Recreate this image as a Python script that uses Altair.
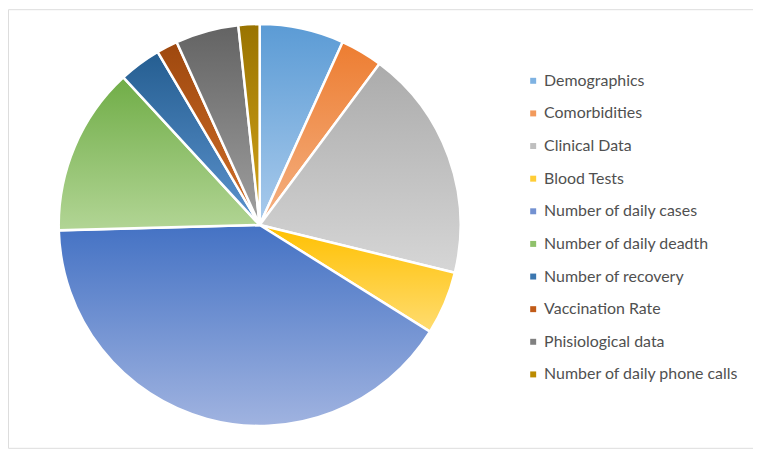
import altair as alt
import pandas as pd

categories = [
    "Demographics",
    "Comorbidities",
    "Clinical Data",
    "Blood Tests",
    "Number of daily cases",
    "Number of daily deadth",
    "Number of recovery",
    "Vaccination Rate",
    "Phisiological data",
    "Number of daily phone calls",
]
values = [4, 2, 11, 3, 24, 8, 2, 1, 3, 1]
top_colors = ["#5B9BD5", "#ED7D31", "#ABABAB", "#FFC000", "#4472C4",
              "#70AD47", "#255E91", "#9E480E", "#636363", "#997300"]
bottom_colors = ["#AACBEC", "#F4B183", "#D6D6D6", "#FFDC70", "#A0B3E0",
                 "#B2D595", "#5C93CE", "#D2702A", "#A0A0A0", "#D4A51C"]
legend_colors = ["#7EB2E2", "#F29A5C", "#BFBFBF", "#FFCD36", "#7391D1",
                 "#8FC16B", "#3B77B0", "#C15B18", "#808080", "#BB8B00"]

df = pd.DataFrame({"cat": categories, "value": values, "idx": list(range(len(values)))})
total = sum(values)

base = (
    alt.Chart(df)
    .transform_window(end="sum(value)", sort=[alt.SortField("idx")], frame=[None, 0])
    .transform_calculate(start="datum.end - datum.value")
)

theta_enc = alt.Theta("start:Q", scale=alt.Scale(domain=[0, total]))
theta2_enc = alt.Theta2("end:Q")
cx = alt.value(253)
cy = alt.value(217)

solid = base.mark_arc(radius=202, stroke="white", strokeWidth=2.5).encode(
    theta=theta_enc,
    theta2=theta2_enc,
    x=cx,
    y=cy,
    color=alt.Color(
        "cat:N",
        scale=alt.Scale(domain=categories, range=legend_colors),
        sort=categories,
        legend=alt.Legend(
            title=None,
            orient="none",
            legendX=520,
            legendY=64,
            symbolType="square",
            symbolSize=36,
            symbolStrokeWidth=0,
            labelFont="Lato",
            labelFontSize=16,
            labelColor="#505050",
            labelOffset=3,
            rowPadding=16.8,
            labelLimit=300,
        ),
    ),
)

layers = [solid]
for cat, c0, c1 in zip(categories, top_colors, bottom_colors):
    grad = {
        "gradient": "linear",
        "x1": 0, "y1": 0, "x2": 0, "y2": 1,
        "stops": [{"offset": 0, "color": c0}, {"offset": 1, "color": c1}],
    }
    layers.append(
        base.transform_filter(alt.datum.cat == cat)
        .mark_arc(radius=202, stroke="white", strokeWidth=2.5, fill=grad)
        .encode(theta=theta_enc, theta2=theta2_enc, x=cx, y=cy)
    )

chart = (
    alt.layer(*layers)
    .properties(width=749, height=441, autosize=alt.AutoSizeParams(type="none"), padding=0)
    .configure_view(stroke="#D9D9D9", strokeWidth=1.5)
    .configure(background="white")
)

chart.save("out.html", embed_options={"renderer": "svg", "actions": False})
